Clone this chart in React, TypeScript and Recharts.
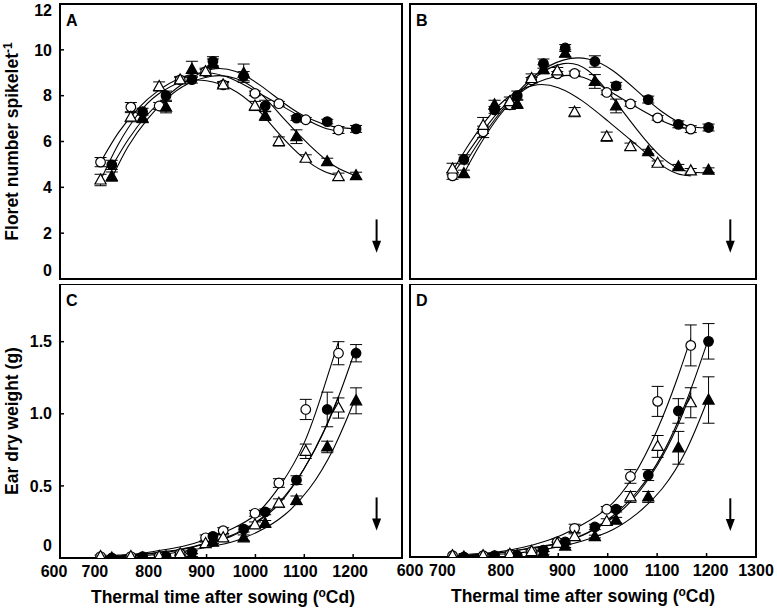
import React from 'react';
import {
  ComposedChart,
  Line,
  Scatter,
  XAxis,
  YAxis,
  ErrorBar,
  ReferenceArea,
  ReferenceLine,
} from 'recharts';

const FONT = '"Liberation Sans", Arial, Helvetica, sans-serif';

// ---------- sampling times (oCd) ----------
const xOpenAC = [683, 745, 803, 846, 898, 934, 999, 1048, 1103, 1170];
const xFilledAC = [706, 769, 817, 870, 913, 976, 1020, 1084, 1147, 1206];
const xOpenBD = [686, 748, 802, 846, 898, 933, 998, 1046, 1101, 1168];
const xFilledBD = [709, 771, 817, 870, 914, 974, 1017, 1082, 1143, 1204];

// ---------- fitted-curve sample positions (oCd) ----------
const fitXOpenAC = [683, 720, 760, 800, 850, 900, 950, 1000, 1050, 1100, 1140, 1170];
const fitXFilledAC = [706, 740, 780, 820, 860, 910, 960, 1010, 1060, 1110, 1160, 1206];
const fitXOpenBD = [686, 720, 760, 800, 850, 900, 950, 1000, 1050, 1100, 1140, 1168];
const fitXFilledBD = [709, 740, 780, 820, 860, 910, 960, 1010, 1060, 1110, 1160, 1204];

// ---------- Panel A: floret number ----------
const aOpenCircle = [5.1, 7.5, 7.55, 8.69, 9.05, 8.47, 8.1, 7.65, 6.95, 6.5];
const aOpenCircleErr = [0.2, 0.2, 0.15, 0.1, 0.1, 0.1, 0.1, 0.1, 0.1, 0.15];
const aFilledCircle = [4.98, 7.3, 8.0, 8.7, 9.5, 8.85, 7.55, 7.02, 6.87, 6.55];
const aFilledCircleErr = [0.2, 0.15, 0.2, 0.15, 0.2, 0.2, 0.25, 0.1, 0.1, 0.15];
const aOpenTri = [4.32, 7.06, 8.4, 8.69, 9.05, 8.47, 7.55, 6.0, 5.27, 4.47];
const aOpenTriErr = [0.25, 0.2, 0.2, 0.15, 0.15, 0.15, 0.2, 0.2, 0.15, 0.15];
const aFilledTri = [4.47, 7.02, 7.5, 9.15, 9.4, 8.98, 7.12, 6.21, 5.12, 4.51];
const aFilledTriErr = [0.2, 0.2, 0.25, 0.35, 0.2, 0.4, 0.2, 0.3, 0.15, 0.15];
const aFitOpenCircle = [5.1, 6.4, 7.45, 8.2, 8.8, 9.0, 8.75, 8.2, 7.6, 7.0, 6.6, 6.45];
const aFitOpenTri = [4.3, 5.9, 7.2, 8.05, 8.6, 8.65, 8.3, 7.5, 6.3, 5.25, 4.7, 4.5];
const aFitFilledCircle = [4.9, 6.1, 7.2, 8.0, 8.65, 9.15, 9.05, 8.45, 7.65, 7.0, 6.65, 6.55];
const aFitFilledTri = [4.4, 5.8, 7.0, 7.9, 8.5, 8.85, 8.75, 8.1, 6.95, 5.85, 4.95, 4.5];

// ---------- Panel B: floret number ----------
const bOpenCircle = [4.5, 6.42, 7.6, 8.69, 8.95, 8.97, 8.14, 7.64, 7.03, 6.54];
const bOpenCircleErr = [0.15, 0.25, 0.2, 0.1, 0.1, 0.1, 0.1, 0.1, 0.1, 0.15];
const bFilledCircle = [5.22, 7.38, 8.0, 9.4, 10.08, 9.49, 8.43, 7.83, 6.75, 6.61];
const bFilledCircleErr = [0.2, 0.15, 0.2, 0.2, 0.15, 0.25, 0.15, 0.15, 0.15, 0.15];
const bOpenTri = [4.8, 6.7, 7.74, 8.75, 9.08, 7.28, 6.21, 5.78, 5.05, 4.72];
const bOpenTriErr = [0.25, 0.35, 0.2, 0.2, 0.15, 0.2, 0.2, 0.15, 0.1, 0.1];
const bFilledTri = [4.6, 7.6, 7.64, 9.15, 9.85, 8.62, 7.55, 5.56, 4.9, 4.75];
const bFilledTriErr = [0.15, 0.2, 0.2, 0.2, 0.15, 0.3, 0.3, 0.1, 0.1, 0.1];
const bFitOpenCircle = [4.55, 5.6, 6.8, 7.75, 8.5, 8.85, 8.8, 8.25, 7.6, 7.0, 6.65, 6.55];
const bFitOpenTri = [4.7, 5.9, 7.1, 7.95, 8.45, 8.35, 7.75, 6.9, 6.0, 5.1, 4.6, 4.5];
const bFitFilledCircle = [4.95, 6.0, 7.2, 8.2, 9.0, 9.55, 9.6, 9.1, 8.2, 7.3, 6.7, 6.6];
const bFitFilledTri = [4.6, 5.8, 7.1, 8.1, 8.9, 9.4, 9.1, 7.9, 6.5, 5.3, 4.7, 4.65];

// ---------- Panel C: ear dry weight (g) ----------
const cOpenCircle = [0.01, 0.01, 0.01, 0.03, 0.14, 0.19, 0.31, 0.52, 1.03, 1.42];
const cOpenCircleErr = [0.01, 0.01, 0.01, 0.01, 0.02, 0.02, 0.02, 0.03, 0.07, 0.08];
const cFilledCircle = [0.0, 0.01, 0.01, 0.04, 0.15, 0.2, 0.32, 0.54, 1.03, 1.42];
const cFilledCircleErr = [0, 0, 0, 0.01, 0.02, 0.02, 0.02, 0.03, 0.12, 0.06];
const cOpenTri = [0.01, 0.01, 0.01, 0.03, 0.1, 0.14, 0.23, 0.38, 0.74, 1.04];
const cOpenTriErr = [0, 0, 0, 0.01, 0.01, 0.02, 0.02, 0.03, 0.05, 0.07];
const cFilledTri = [0.0, 0.0, 0.01, 0.02, 0.11, 0.14, 0.24, 0.4, 0.77, 1.09];
const cFilledTriErr = [0, 0, 0, 0.01, 0.01, 0.02, 0.02, 0.03, 0.04, 0.09];
const cFitOpenCircle = [0.01, 0.02, 0.03, 0.05, 0.08, 0.13, 0.2, 0.3, 0.5, 0.8, 1.18, 1.5];
const cFitOpenTri = [0.01, 0.01, 0.02, 0.04, 0.06, 0.1, 0.15, 0.24, 0.38, 0.62, 0.88, 1.12];
const cFitFilledCircle = [0.01, 0.02, 0.03, 0.04, 0.07, 0.11, 0.17, 0.27, 0.43, 0.68, 1.03, 1.46];
const cFitFilledTri = [0.0, 0.01, 0.02, 0.03, 0.05, 0.08, 0.12, 0.19, 0.3, 0.48, 0.76, 1.12];

// ---------- Panel D: ear dry weight (g) ----------
const dOpenCircle = [0.01, 0.01, 0.02, 0.04, 0.11, 0.21, 0.35, 0.59, 1.14, 1.55];
const dOpenCircleErr = [0, 0, 0, 0.01, 0.02, 0.03, 0.02, 0.05, 0.11, 0.15];
const dFilledCircle = [0.0, 0.01, 0.01, 0.05, 0.11, 0.22, 0.35, 0.6, 1.07, 1.58];
const dFilledCircleErr = [0, 0, 0, 0.01, 0.01, 0.02, 0.02, 0.04, 0.09, 0.13];
const dOpenTri = [0.01, 0.01, 0.02, 0.04, 0.1, 0.15, 0.26, 0.44, 0.81, 1.13];
const dOpenTriErr = [0, 0, 0, 0.01, 0.01, 0.02, 0.02, 0.04, 0.08, 0.11];
const dFilledTri = [0.0, 0.0, 0.01, 0.03, 0.08, 0.15, 0.27, 0.44, 0.8, 1.15];
const dFilledTriErr = [0, 0, 0, 0.01, 0.01, 0.01, 0.02, 0.04, 0.12, 0.17];
const dFitOpenCircle = [0.01, 0.02, 0.03, 0.05, 0.09, 0.15, 0.24, 0.36, 0.58, 0.93, 1.3, 1.6];
const dFitOpenTri = [0.01, 0.01, 0.02, 0.04, 0.07, 0.1, 0.16, 0.26, 0.42, 0.67, 0.95, 1.2];
const dFitFilledCircle = [0.01, 0.02, 0.03, 0.05, 0.07, 0.11, 0.18, 0.3, 0.48, 0.75, 1.15, 1.6];
const dFitFilledTri = [0.0, 0.01, 0.02, 0.03, 0.05, 0.08, 0.13, 0.2, 0.32, 0.5, 0.79, 1.17];

// ---------- anthesis arrows ----------
const arrowX = 1248;
const arrowFloret = [2.6, 1.15];
const arrowEarC = [0.42, 0.19];
const arrowEarD = [0.43, 0.19];

// ---------- axes ----------
const xTicks = [600, 700, 800, 900, 1000, 1100, 1200, 1300];
const xLabelsC = [600, 700, 800, 900, 1000, 1100, 1200];
const xLabelsD = [600, 700, 800, 900, 1000, 1100, 1200, 1300];
const floretTicks = [0, 2, 4, 6, 8, 10, 12];
const earTicks = [0, 0.5, 1.0, 1.5];

// label nudges (px) as printed in the original figure
const xLabelNudgeC: Record<number, number> = { 600: -6, 700: -14, 800: -9, 900: -5, 1000: -5, 1100: -4, 1200: -3 };
const xLabelNudgeD: Record<number, number> = { 600: 0, 700: -17, 800: -8, 900: 4, 1000: 3, 1100: 5, 1200: 4, 1300: 0 };

type Kind = 'oc' | 'fc' | 'ot' | 'ft';

const pts = (xs: number[], ys: number[], es: number[]) =>
  xs.map((x, i) => ({ x, y: ys[i], err: es[i] }));
const crv = (xs: number[], ys: number[]) => xs.map((x, i) => ({ x, y: ys[i] }));

const makeMarker = (kind: Kind) => (props: any) => {
  const { cx, cy } = props;
  if (cx == null || cy == null) return <g />;
  const filled = kind === 'fc' || kind === 'ft';
  const fill = filled ? '#000' : '#fff';
  if (kind === 'oc' || kind === 'fc') {
    return <circle cx={cx} cy={cy} r={4.8} fill={fill} stroke="#000" strokeWidth={1.2} />;
  }
  return (
    <polygon
      points={`${cx},${cy - 6} ${cx - 5.6},${cy + 4} ${cx + 5.6},${cy + 4}`}
      fill={fill}
      stroke="#000"
      strokeWidth={1.2}
    />
  );
};

const makeYTick = (fmt: (v: number) => string, zeroShift: number, topVal: number, topShift: number) =>
  (props: any) => {
    const { x, y, payload } = props;
    const v = payload.value;
    let dy = 0;
    if (v === 0) dy = zeroShift;
    if (v === topVal) dy = topShift;
    return (
      <text
        x={x}
        y={y + dy}
        dy="0.355em"
        textAnchor="end"
        fontFamily={FONT}
        fontSize={16}
        fontWeight="bold"
        fill="#000"
      >
        {fmt(v)}
      </text>
    );
  };

const makeXTick = (labels: number[], nudge: Record<number, number>) => (props: any) => {
  const { x, y, payload } = props;
  const v = payload.value;
  if (labels.indexOf(v) < 0) return <g />;
  return (
    <text
      x={x + (nudge[v] || 0)}
      y={y}
      dy="0.71em"
      textAnchor="middle"
      fontFamily={FONT}
      fontSize={16}
      fontWeight="bold"
      fill="#000"
    >
      {String(v)}
    </text>
  );
};

const ArrowShape = (props: any) => {
  const { x1, y1, x2, y2 } = props;
  if (x1 == null) return <g />;
  const top = Math.min(y1, y2);
  const bot = Math.max(y1, y2);
  return (
    <g>
      <line x1={x1} y1={top} x2={x1} y2={bot - 10} stroke="#000" strokeWidth={2} />
      <polygon points={`${x1 - 4.5},${bot - 12} ${x1 + 4.5},${bot - 12} ${x1},${bot}`} fill="#000" />
    </g>
  );
};

type Series = { kind: Kind; points: { x: number; y: number; err: number }[]; curve: { x: number; y: number }[] };

type PanelProps = {
  left: number;
  top: number;
  width: number;
  height: number;
  margin: { top: number; right: number; bottom: number; left: number };
  yAxisWidth: number;
  xAxisHeight: number;
  yDomain: [number, number];
  yTicks: number[];
  yFmt: (v: number) => string;
  showYLabels: boolean;
  xLabels?: number[];
  xNudge?: Record<number, number>;
  yTitle?: 'floret' | 'ear';
  xTitleShift?: number;
  letter: string;
  series: Series[];
  arrow: number[];
  zeroShift: number;
};

function Panel(p: PanelProps) {
  const yTitleFn = (lp: any) => {
    const vb = lp.viewBox || {};
    const cx = (vb.x || 0) + 18;
    const cy = (vb.y || 0) + (vb.height || 0) / 2;
    return (
      <text
        x={cx}
        y={cy}
        transform={`rotate(-90, ${cx}, ${cy})`}
        textAnchor="middle"
        fontFamily={FONT}
        fontSize={17.5}
        fontWeight="bold"
        fill="#000"
      >
        {p.yTitle === 'floret' ? (
          <>
            Floret number spikelet
            <tspan fontSize={12} dy={-6}>-1</tspan>
          </>
        ) : (
          'Ear dry weight (g)'
        )}
      </text>
    );
  };
  const xTitleFn = (lp: any) => {
    const vb = lp.viewBox || {};
    const cx = (vb.x || 0) + (vb.width || 0) / 2 + (p.xTitleShift || 0);
    const cy = (vb.y || 0) + 45;
    return (
      <text x={cx} y={cy} textAnchor="middle" fontFamily={FONT} fontSize={17.5} fontWeight="bold" fill="#000">
        Thermal time after sowing (
        <tspan fontSize={12} dy={-6}>o</tspan>
        <tspan dy={6}>Cd)</tspan>
      </text>
    );
  };
  const letterFn = (lp: any) => {
    const vb = lp.viewBox || {};
    return (
      <text x={(vb.x || 0) + 6} y={(vb.y || 0) + 22} fontFamily={FONT} fontSize={16} fontWeight="bold" fill="#000">
        {p.letter}
      </text>
    );
  };

  const showX = !!p.xLabels;

  return (
    <div style={{ position: 'absolute', left: p.left, top: p.top, width: p.width, height: p.height }}>
      <ComposedChart width={p.width} height={p.height} margin={p.margin}>
        <XAxis
          dataKey="x"
          type="number"
          domain={[600, 1300]}
          ticks={xTicks}
          allowDataOverflow
          axisLine={false}
          tickLine={{ stroke: '#000', strokeWidth: 1.5 }}
          tickSize={-4}
          tickMargin={12}
          height={p.xAxisHeight}
          interval={0}
          tick={showX ? makeXTick(p.xLabels as number[], p.xNudge || {}) : false}
          label={showX ? xTitleFn : undefined}
        />
        <YAxis
          type="number"
          domain={p.yDomain}
          ticks={p.yTicks}
          allowDataOverflow
          axisLine={false}
          tickLine={{ stroke: '#000', strokeWidth: 1.5 }}
          tickSize={-4}
          tickMargin={12}
          width={p.yAxisWidth}
          interval={0}
          tick={p.showYLabels ? makeYTick(p.yFmt, p.zeroShift, 12, 6) : false}
          label={p.yTitle ? yTitleFn : undefined}
        />
        <ReferenceArea
          x1={600}
          x2={1300}
          y1={p.yDomain[0]}
          y2={p.yDomain[1]}
          fill="none"
          fillOpacity={0}
          stroke="#000"
          strokeWidth={2}
          ifOverflow="visible"
          label={letterFn}
        />
        <ReferenceLine
          segment={[
            { x: arrowX, y: p.arrow[0] },
            { x: arrowX, y: p.arrow[1] },
          ]}
          stroke="#000"
          ifOverflow="visible"
          shape={ArrowShape}
        />
        {p.series.map((s, i) => (
          <Line
            key={'l' + i}
            data={s.curve}
            dataKey="y"
            type="natural"
            stroke="#000"
            strokeWidth={1.1}
            dot={false}
            activeDot={false}
            isAnimationActive={false}
          />
        ))}
        {p.series.map((s, i) => (
          <Scatter
            key={'s' + i}
            data={s.points}
            dataKey="y"
            shape={makeMarker(s.kind)}
            isAnimationActive={false}
          >
            <ErrorBar dataKey="err" direction="y" width={6} stroke="#000" strokeWidth={1} isAnimationActive={false} />
          </Scatter>
        ))}
      </ComposedChart>
    </div>
  );
}

const seriesA: Series[] = [
  { kind: 'oc', points: pts(xOpenAC, aOpenCircle, aOpenCircleErr), curve: crv(fitXOpenAC, aFitOpenCircle) },
  { kind: 'fc', points: pts(xFilledAC, aFilledCircle, aFilledCircleErr), curve: crv(fitXFilledAC, aFitFilledCircle) },
  { kind: 'ot', points: pts(xOpenAC, aOpenTri, aOpenTriErr), curve: crv(fitXOpenAC, aFitOpenTri) },
  { kind: 'ft', points: pts(xFilledAC, aFilledTri, aFilledTriErr), curve: crv(fitXFilledAC, aFitFilledTri) },
];
const seriesB: Series[] = [
  { kind: 'oc', points: pts(xOpenBD, bOpenCircle, bOpenCircleErr), curve: crv(fitXOpenBD, bFitOpenCircle) },
  { kind: 'fc', points: pts(xFilledBD, bFilledCircle, bFilledCircleErr), curve: crv(fitXFilledBD, bFitFilledCircle) },
  { kind: 'ot', points: pts(xOpenBD, bOpenTri, bOpenTriErr), curve: crv(fitXOpenBD, bFitOpenTri) },
  { kind: 'ft', points: pts(xFilledBD, bFilledTri, bFilledTriErr), curve: crv(fitXFilledBD, bFitFilledTri) },
];
const seriesC: Series[] = [
  { kind: 'oc', points: pts(xOpenAC, cOpenCircle, cOpenCircleErr), curve: crv(fitXOpenAC, cFitOpenCircle) },
  { kind: 'fc', points: pts(xFilledAC, cFilledCircle, cFilledCircleErr), curve: crv(fitXFilledAC, cFitFilledCircle) },
  { kind: 'ot', points: pts(xOpenAC, cOpenTri, cOpenTriErr), curve: crv(fitXOpenAC, cFitOpenTri) },
  { kind: 'ft', points: pts(xFilledAC, cFilledTri, cFilledTriErr), curve: crv(fitXFilledAC, cFitFilledTri) },
];
const seriesD: Series[] = [
  { kind: 'oc', points: pts(xOpenBD, dOpenCircle, dOpenCircleErr), curve: crv(fitXOpenBD, dFitOpenCircle) },
  { kind: 'fc', points: pts(xFilledBD, dFilledCircle, dFilledCircleErr), curve: crv(fitXFilledBD, dFitFilledCircle) },
  { kind: 'ot', points: pts(xOpenBD, dOpenTri, dOpenTriErr), curve: crv(fitXOpenBD, dFitOpenTri) },
  { kind: 'ft', points: pts(xFilledBD, dFilledTri, dFilledTriErr), curve: crv(fitXFilledBD, dFitFilledTri) },
];

const fmtInt = (v: number) => String(v);
const fmtEar = (v: number) => (v === 0 ? '0' : v.toFixed(1));

export default function App() {
  return (
    <div style={{ position: 'absolute', left: 0, top: 0, width: 777, height: 608, background: '#fff' }}>
      <Panel
        left={0}
        top={0}
        width={410}
        height={284}
        margin={{ top: 4, right: 8, bottom: 0, left: 0 }}
        yAxisWidth={60}
        xAxisHeight={5}
        yDomain={[0, 12]}
        yTicks={floretTicks}
        yFmt={fmtInt}
        showYLabels
        yTitle="floret"
        letter="A"
        series={seriesA}
        arrow={arrowFloret}
        zeroShift={-9}
      />
      <Panel
        left={380}
        top={0}
        width={397}
        height={284}
        margin={{ top: 4, right: 21, bottom: 0, left: 0 }}
        yAxisWidth={30}
        xAxisHeight={5}
        yDomain={[0, 12]}
        yTicks={floretTicks}
        yFmt={fmtInt}
        showYLabels={false}
        letter="B"
        series={seriesB}
        arrow={arrowFloret}
        zeroShift={0}
      />
      <Panel
        left={0}
        top={284}
        width={410}
        height={324}
        margin={{ top: 0, right: 8, bottom: 0, left: 0 }}
        yAxisWidth={60}
        xAxisHeight={50}
        yDomain={[0, 1.9]}
        yTicks={earTicks}
        yFmt={fmtEar}
        showYLabels
        xLabels={xLabelsC}
        xNudge={xLabelNudgeC}
        yTitle="ear"
        xTitleShift={-8}
        letter="C"
        series={seriesC}
        arrow={arrowEarC}
        zeroShift={-13}
      />
      <Panel
        left={380}
        top={284}
        width={397}
        height={324}
        margin={{ top: 0, right: 21, bottom: 0, left: 0 }}
        yAxisWidth={30}
        xAxisHeight={51}
        yDomain={[0, 2.0]}
        yTicks={earTicks}
        yFmt={fmtEar}
        showYLabels={false}
        xLabels={xLabelsD}
        xNudge={xLabelNudgeD}
        letter="D"
        series={seriesD}
        arrow={arrowEarD}
        zeroShift={0}
      />
    </div>
  );
}
